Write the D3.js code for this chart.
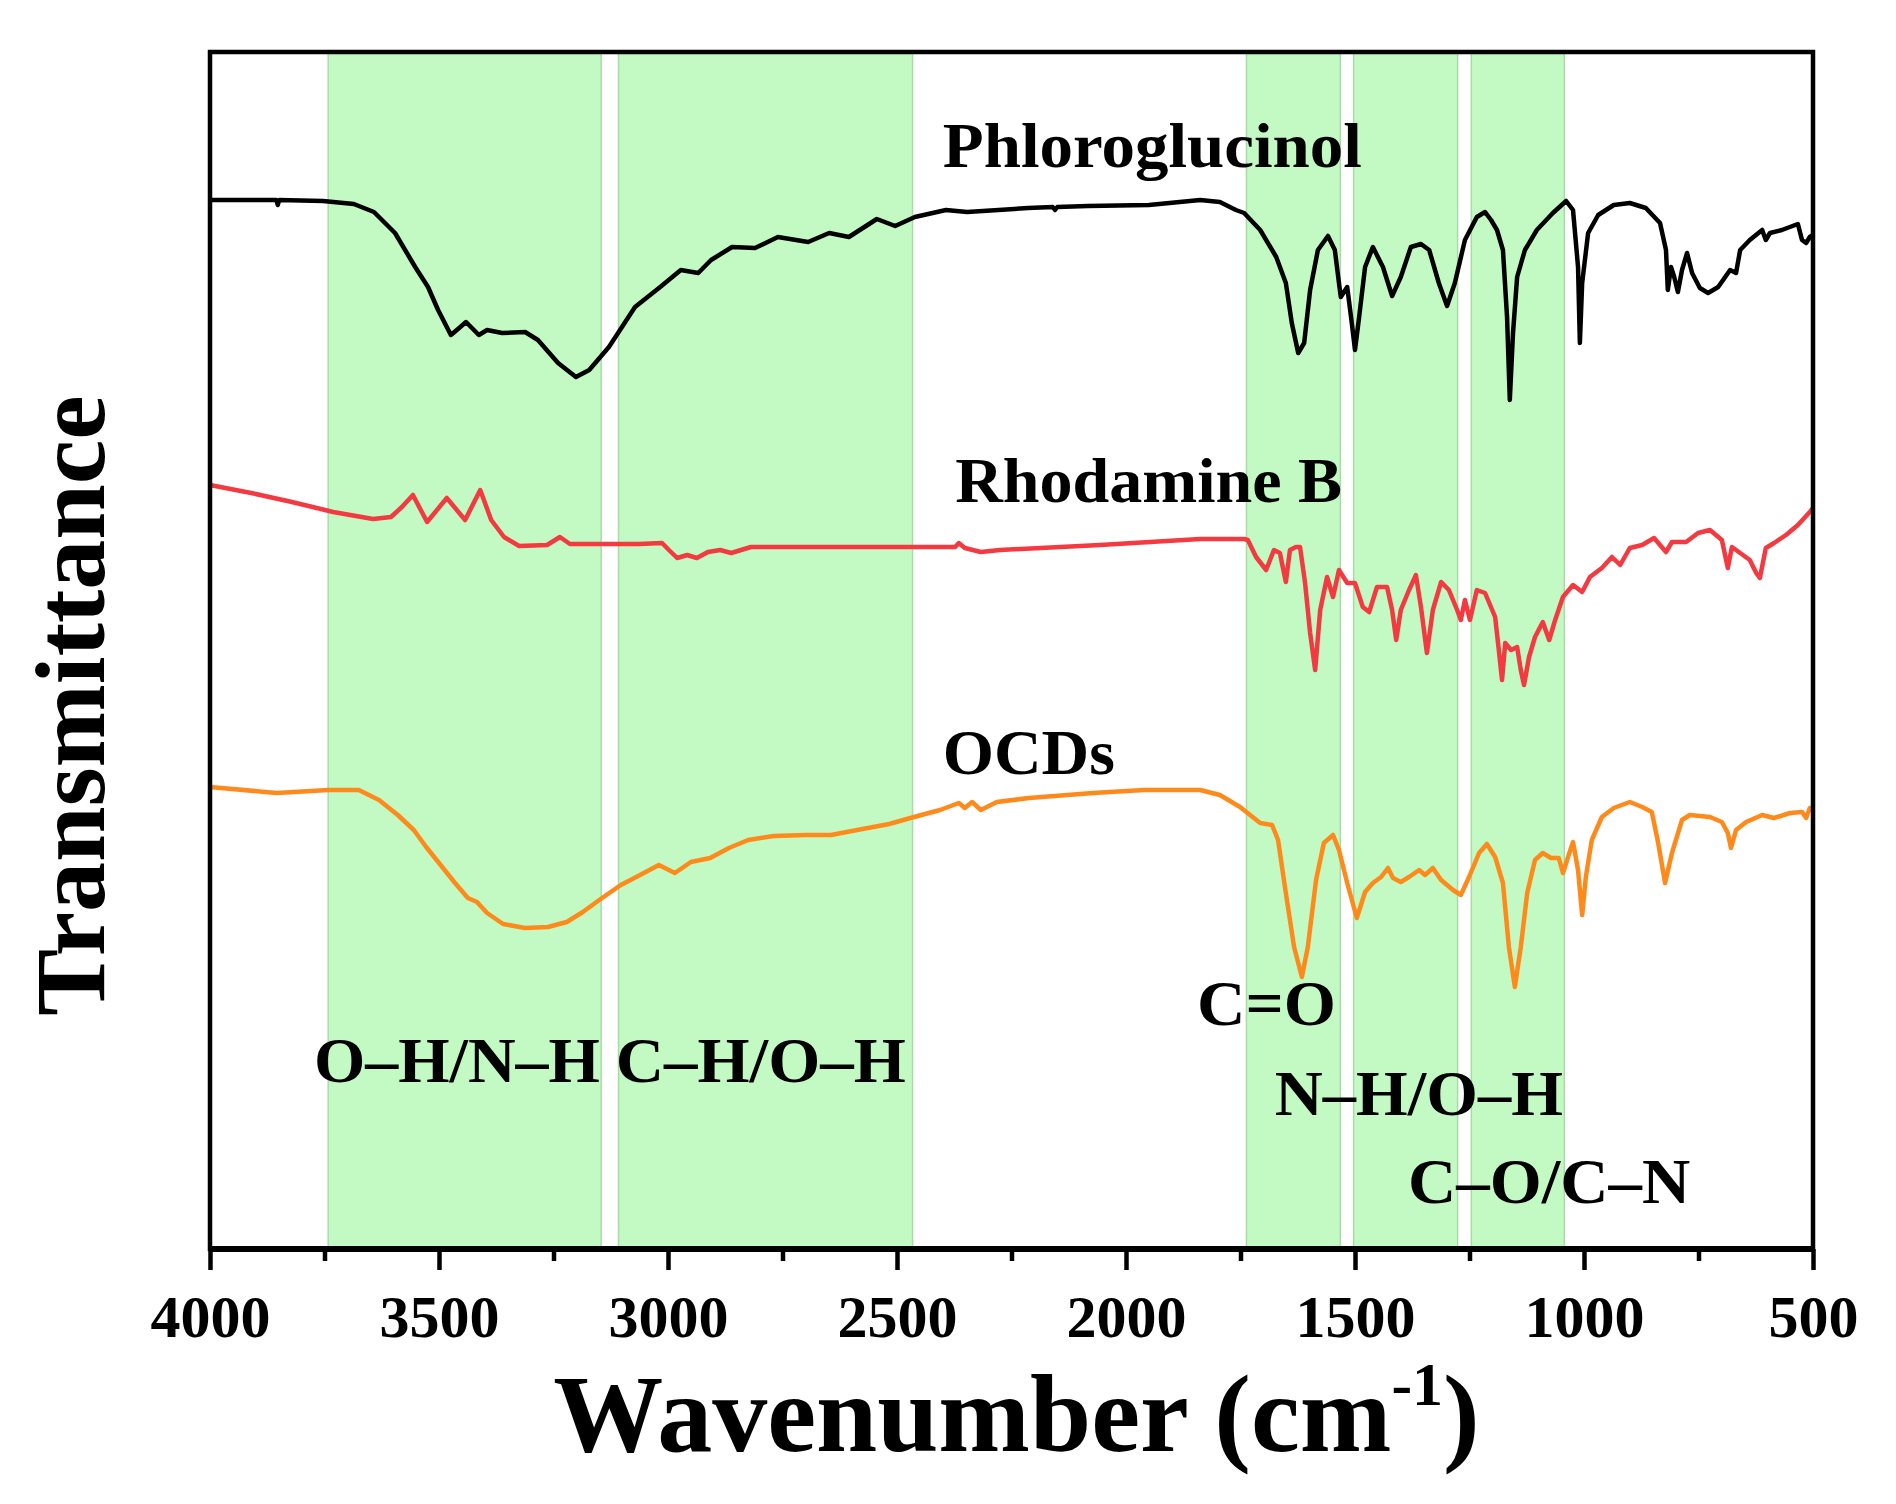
<!DOCTYPE html>
<html>
<head>
<meta charset="utf-8">
<script src="https://cdn.jsdelivr.net/npm/d3@7"></script>
<style>
  body { margin: 0; background: #fff; }
  text { font-family: "Liberation Serif", "Times New Roman", serif; font-weight: bold; fill: #000; }
</style>
</head>
<body>
<div id="chart"></div>
<script>
// FTIR spectra, [wavenumber (cm-1), transmittance (a.u., offset)]
var phloroglucinol = [[4000,104.9],[3900,104.9],[3855,104.9],[3852,104.4],[3849,104.9],[3753,104.8],[3686,104.5],[3642,103.7],[3596,101.6],[3552,98.2],[3524,96.2],[3502,93.9],[3474,91.4],[3456,92.1],[3441,92.7],[3413,91.4],[3395,91.9],[3362,91.6],[3312,91.7],[3284,90.9],[3240,88.6],[3201,87.2],[3172,87.9],[3129,90.2],[3072,94.2],[3017,96.2],[2972,97.9],[2934,97.6],[2906,98.9],[2860,100.2],[2810,100.1],[2760,101.2],[2694,100.7],[2648,101.6],[2605,101.2],[2544,103.0],[2504,102.3],[2461,103.2],[2393,103.9],[2347,103.7],[2214,104.1],[2160,104.2],[2155,103.9],[2150,104.2],[2083,104.3],[1950,104.4],[1838,104.9],[1795,104.7],[1760,103.9],[1742,103.6],[1707,101.9],[1672,99.2],[1651,96.6],[1638,92.6],[1624,89.6],[1611,90.6],[1598,95.9],[1581,99.9],[1559,101.3],[1544,99.9],[1535,96.6],[1531,95.2],[1517,96.2],[1507,92.6],[1500,89.9],[1491,93.2],[1478,98.2],[1461,100.2],[1439,98.2],[1419,95.3],[1400,97.2],[1378,100.2],[1356,100.5],[1338,99.9],[1317,96.6],[1299,94.3],[1282,96.6],[1260,100.9],[1234,103.2],[1216,103.7],[1203,102.9],[1190,101.9],[1177,99.9],[1168,93.2],[1162,84.9],[1155,91.6],[1146,97.2],[1129,99.9],[1103,101.9],[1068,103.6],[1039,104.8],[1024,103.9],[1013,98.2],[1009,90.6],[1004,96.6],[991,101.6],[969,103.4],[935,104.4],[900,104.6],[865,104.1],[834,102.6],[821,99.9],[817,95.9],[810,98.2],[803,97.2],[795,95.7],[786,97.9],[775,99.6],[764,97.6],[747,96.1],[729,95.6],[707,96.2],[681,97.9],[668,97.6],[659,99.9],[638,100.9],[611,101.9],[603,100.9],[594,101.6],[568,101.9],[533,102.5],[524,100.9],[515,100.6],[507,101.2],[500,101.4]];

var rhodamineB = [[4000,76.4],[3910,75.6],[3821,74.7],[3731,73.7],[3644,73.0],[3605,73.2],[3581,74.2],[3557,75.4],[3526,72.7],[3483,75.1],[3443,72.9],[3410,75.9],[3386,72.9],[3358,71.2],[3325,70.3],[3264,70.4],[3236,71.2],[3214,70.5],[3131,70.5],[3063,70.5],[3013,70.6],[2998,69.9],[2980,69.1],[2958,69.4],[2937,69.1],[2913,69.7],[2886,69.9],[2862,69.6],[2819,70.2],[2686,70.2],[2463,70.2],[2373,70.2],[2365,70.6],[2352,70.1],[2317,69.7],[2275,69.9],[2057,70.4],[1838,71.0],[1742,71.0],[1734,70.9],[1716,69.2],[1694,67.9],[1677,69.9],[1664,69.6],[1651,66.7],[1642,69.9],[1629,70.2],[1620,70.2],[1609,66.6],[1598,61.6],[1587,57.9],[1576,63.9],[1561,67.2],[1548,65.2],[1535,67.9],[1517,66.6],[1500,66.6],[1483,64.2],[1469,63.7],[1452,66.2],[1430,66.2],[1419,63.9],[1410,60.9],[1400,63.9],[1382,65.9],[1367,67.4],[1356,64.2],[1343,59.6],[1330,63.9],[1312,66.7],[1295,65.9],[1277,63.9],[1269,62.9],[1260,64.9],[1249,62.9],[1234,65.9],[1216,65.6],[1194,63.2],[1186,59.9],[1179,56.9],[1172,60.6],[1159,59.9],[1146,60.2],[1138,57.9],[1131,56.4],[1120,59.2],[1107,61.2],[1090,62.7],[1076,60.9],[1063,62.9],[1046,65.2],[1024,66.4],[1004,65.7],[987,67.2],[961,68.1],[939,69.2],[921,68.4],[900,70.1],[873,70.4],[847,71.1],[821,69.7],[808,70.7],[777,70.7],[751,71.6],[725,71.9],[699,70.9],[686,68.1],[677,70.2],[659,69.6],[638,68.9],[624,67.6],[616,67.1],[603,70.1],[585,70.6],[559,71.4],[533,72.4],[507,73.7],[500,74.1]];

var ocds = [[4000,46.2],[3854,45.6],[3742,45.9],[3675,45.9],[3631,44.9],[3590,43.4],[3555,41.9],[3528,40.2],[3500,38.6],[3465,36.6],[3437,35.1],[3417,34.7],[3395,33.6],[3360,32.5],[3312,32.1],[3262,32.2],[3221,32.7],[3186,33.7],[3144,35.1],[3103,36.4],[3061,37.4],[3020,38.4],[2985,37.6],[2950,38.7],[2908,39.1],[2867,40.1],[2825,40.9],[2769,41.3],[2699,41.4],[2644,41.4],[2587,41.9],[2517,42.5],[2463,43.2],[2406,43.9],[2365,44.6],[2352,44.1],[2336,44.7],[2317,43.9],[2282,44.7],[2212,45.1],[2072,45.6],[1961,45.9],[1838,45.9],[1795,45.4],[1751,44.2],[1707,42.6],[1681,42.4],[1668,40.9],[1651,35.6],[1633,30.2],[1616,27.2],[1603,30.2],[1585,36.9],[1568,40.6],[1548,41.4],[1535,39.9],[1517,36.6],[1496,33.1],[1478,35.7],[1461,36.6],[1443,37.2],[1428,38.1],[1417,37.1],[1400,36.7],[1382,37.2],[1360,37.9],[1347,37.4],[1330,38.1],[1312,36.9],[1286,35.9],[1269,35.4],[1251,37.2],[1229,39.6],[1212,40.5],[1194,39.2],[1177,36.6],[1164,30.2],[1151,26.2],[1138,30.2],[1124,35.6],[1107,38.9],[1090,39.6],[1072,39.1],[1055,39.1],[1046,37.6],[1037,38.9],[1024,40.7],[1013,37.9],[1004,33.4],[996,37.2],[983,40.9],[961,43.2],[935,44.1],[900,44.7],[873,44.2],[852,43.7],[838,40.6],[823,36.6],[808,39.6],[786,42.9],[769,43.4],[725,43.2],[699,42.7],[686,41.6],[679,40.1],[668,41.9],[646,42.7],[611,43.4],[585,43.1],[550,43.6],[524,43.7],[515,43.1],[507,44.1],[500,44.0]];

// shaded assignment bands [from, to] in cm-1
var bands = [[3742,3146],[3108,2466],[1737,1532],[1503,1276],[1246,1043]];
var bandNames = ["O\u2013H/N\u2013H", "C\u2013H/O\u2013H", "C=O", "N\u2013H/O\u2013H", "C\u2013O/C\u2013N"];
var seriesNames = ["Phloroglucinol", "Rhodamine B", "OCDs"];
var xTicks = [4000, 3500, 3000, 2500, 2000, 1500, 1000, 500];
var xMinorTicks = [3750, 3250, 2750, 2250, 1750, 1250, 750];

var W = 1896, H = 1504;
var plotLeft = 210, plotRight = 1813, plotTop = 52, plotBottom = 1249;

var svg = d3.select("#chart").append("svg")
  .attr("width", W)
  .attr("height", H);

var x = d3.scaleLinear().domain([4000, 500]).range([plotLeft, plotRight]);
var y = d3.scaleLinear().domain([0, 119.7]).range([plotBottom, plotTop]);

// green bands
svg.selectAll(".band")
  .data(bands)
  .enter()
  .append("rect")
    .attr("class", "band")
    .attr("x", function(d) { return x(d[0]); })
    .attr("y", plotTop)
    .attr("width", function(d) { return x(d[1]) - x(d[0]); })
    .attr("height", plotBottom - plotTop)
    .attr("fill", "#c3f9c3")
    .attr("stroke", "#a9dba9")
    .attr("stroke-width", 1.5);

// spectra
var line = d3.line()
  .x(function(d) { return x(d[0]); })
  .y(function(d) { return y(d[1]); });

var spectra = [phloroglucinol, rhodamineB, ocds];
var colors = ["#000000", "#f23a40", "#ff8a1c"];

svg.selectAll(".spectrum")
  .data(spectra)
  .enter()
  .append("path")
    .attr("class", "spectrum")
    .attr("d", line)
    .attr("fill", "none")
    .attr("stroke", function(d, i) { return colors[i]; })
    .attr("stroke-width", 4.5)
    .attr("stroke-linejoin", "round");

// series labels
var seriesPos = [[2400, 108.2], [2373, 74.7], [2400, 47.5]];
var seriesLen = [419, 387, 172];
svg.selectAll(".slabel")
  .data(seriesNames)
  .enter()
  .append("text")
    .attr("class", "slabel")
    .attr("x", function(d, i) { return x(seriesPos[i][0]); })
    .attr("y", function(d, i) { return y(seriesPos[i][1]); })
    .attr("font-size", 63)
    .attr("textLength", function(d, i) { return seriesLen[i]; })
    .attr("lengthAdjust", "spacingAndGlyphs")
    .text(function(d) { return d; });

// band labels
var bandPos = [[3773, 16.7], [3114, 16.7], [1845, 22.4], [1675, 13.4], [1384, 4.6]];
var bandLen = [286, 290, 139, 288, 282];
svg.selectAll(".blabel")
  .data(bandNames)
  .enter()
  .append("text")
    .attr("class", "blabel")
    .attr("x", function(d, i) { return x(bandPos[i][0]); })
    .attr("y", function(d, i) { return y(bandPos[i][1]); })
    .attr("font-size", 63)
    .attr("textLength", function(d, i) { return bandLen[i]; })
    .attr("lengthAdjust", "spacingAndGlyphs")
    .text(function(d) { return d; });

// frame
svg.append("rect")
  .attr("x", plotLeft)
  .attr("y", plotTop)
  .attr("width", plotRight - plotLeft)
  .attr("height", plotBottom - plotTop)
  .attr("fill", "none")
  .attr("stroke", "#000")
  .attr("stroke-width", 4.5);

// thicker bottom axis line
svg.append("line")
  .attr("x1", plotLeft)
  .attr("x2", plotRight)
  .attr("y1", plotBottom)
  .attr("y2", plotBottom)
  .attr("stroke", "#000")
  .attr("stroke-width", 6);

// x axis
var xAxis = svg.append("g")
  .attr("transform", "translate(0," + plotBottom + ")")
  .call(d3.axisBottom(x).tickValues(xTicks).tickFormat(d3.format("d")).tickSize(21).tickPadding(24));
xAxis.select(".domain").remove();
xAxis.selectAll(".tick line").attr("stroke-width", 4.5);
xAxis.selectAll(".tick text")
  .attr("font-family", "Liberation Serif, Times New Roman, serif")
  .attr("font-size", 60)
  .attr("font-weight", "bold");

var xMinor = svg.append("g")
  .attr("transform", "translate(0," + plotBottom + ")")
  .call(d3.axisBottom(x).tickValues(xMinorTicks).tickSize(12).tickFormat(""));
xMinor.select(".domain").remove();
xMinor.selectAll(".tick line").attr("stroke-width", 4.5);

// axis titles
var xt = svg.append("text")
  .attr("x", (plotLeft + plotRight) / 2 + 5)
  .attr("y", 1451)
  .attr("text-anchor", "middle")
  .attr("font-size", 110);
xt.append("tspan").text("Wavenumber (cm");
xt.append("tspan").attr("font-size", 62).attr("dy", -46).text("-1");
xt.append("tspan").attr("dy", 46).text(")");

svg.append("text")
  .attr("transform", "translate(104," + ((plotTop + plotBottom) / 2 + 55) + ") rotate(-90)")
  .attr("text-anchor", "middle")
  .attr("font-size", 100)
  .text("Transmittance");
</script>
</body>
</html>
